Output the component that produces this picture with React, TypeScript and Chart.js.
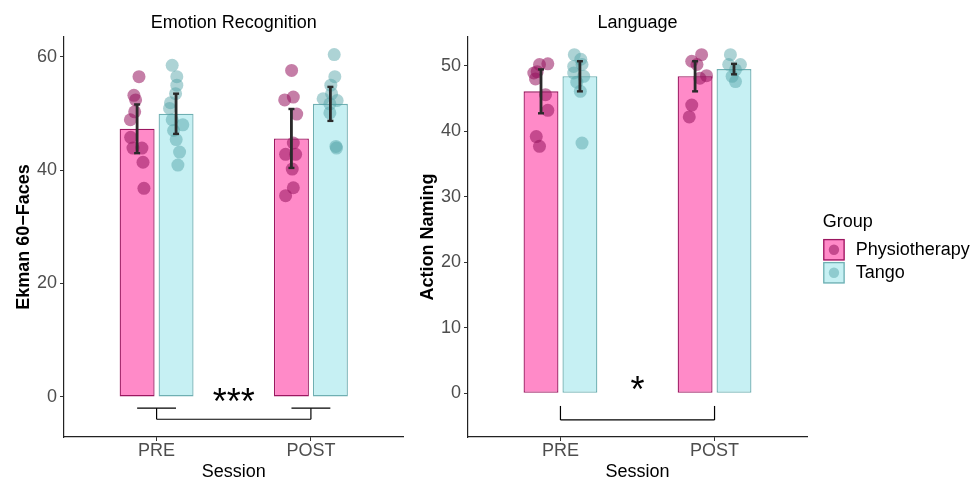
import React, { useEffect, useRef } from 'react';
import { Chart, registerables } from 'chart.js';
Chart.register(...registerables);

const FONT = "'Liberation Sans', Arial, Helvetica, sans-serif";

// ---------- shared ----------
const sessions = ['PRE', 'POST'];
const groups = ['Physiotherapy', 'Tango'];
const dodge = [-0.126, 0.126];
const barFill = ['#FF8AC8', '#C6F0F3'];
const barLine = ['#9B1760', '#6FAFB2'];
const dotColor = ['rgba(150,20,95,0.55)', 'rgba(84,164,168,0.48)'];

// ---------- Emotion Recognition (Ekman 60-Faces) ----------
const erTicks = [0, 20, 40, 60];
const erRange = [-7.08, 63.5];
const erPhysioMean = [47.3, 45.6];
const erPhysioSE = [4.3, 5.2];
const erTangoMean = [49.95, 51.7];
const erTangoSE = [3.55, 3.0];
const erPhysioPre = [56.5, 53.2, 52.4, 50.3, 48.9, 45.8, 43.9, 43.9, 41.4, 36.8];
const erPhysioPreJit = [0.012, -0.021, -0.01, -0.016, -0.044, -0.042, -0.027, 0.031, 0.038, 0.044];
const erPhysioPost = [57.6, 52.4, 52.9, 49.9, 44.8, 42.8, 42.8, 40.2, 36.9, 35.5];
const erPhysioPostJit = [0.001, -0.044, 0.012, 0.034, 0.012, -0.038, 0.027, 0.005, 0.012, -0.038];
const erTangoPre = [58.5, 56.5, 55.0, 53.5, 51.9, 50.9, 48.9, 48.0, 47.0, 45.4, 43.2, 40.9];
const erTangoPreJit = [-0.025, 0.005, 0.005, -0.003, -0.036, -0.042, -0.025, 0.044, -0.016, 0.001, 0.023, 0.012];
const erTangoPost = [60.4, 56.5, 55.0, 53.5, 52.6, 52.3, 51.7, 50.1, 44.2, 43.9];
const erTangoPostJit = [0.025, 0.029, 0.003, 0.008, -0.047, 0.044, -0.003, -0.003, 0.036, 0.04];
const erSig = '***';
const erSigY = 0.27;
const erBracket = [-2.0, -3.95];

// ---------- Language (Action Naming) ----------
const anTicks = [0, 10, 20, 30, 40, 50];
const anRange = [-6.68, 54.4];
const anPhysioMean = [46.1, 48.4];
const anPhysioSE = [3.35, 2.3];
const anTangoMean = [48.4, 49.5];
const anTangoSE = [2.3, 0.8];
const anPhysioPre = [50.3, 50.2, 49.1, 48.9, 48.0, 45.6, 43.2, 39.2, 37.7];
const anPhysioPreJit = [0.044, -0.01, -0.025, -0.047, -0.036, 0.029, 0.044, -0.031, -0.01];
const anPhysioPost = [51.7, 50.7, 50.2, 48.5, 48.1, 44.0, 42.2];
const anPhysioPostJit = [0.042, -0.022, 0.012, 0.074, 0.031, -0.022, -0.038];
const anTangoPre = [51.7, 51.0, 50.2, 49.9, 48.9, 48.4, 47.5, 46.1, 38.2];
const anTangoPreJit = [-0.036, 0.006, 0.014, -0.04, -0.04, 0.025, -0.02, 0.003, 0.014];
const anTangoPost = [51.7, 50.2, 50.2, 49.4, 48.4, 47.6];
const anTangoPostJit = [-0.023, 0.042, -0.034, 0.01, -0.012, 0.01];
const anSig = '*';
const anSigY = 1.62;
const anBracket = [-1.94, -4.08];

interface Panel {
  title: string;
  yTitle: string;
  ticks: number[];
  range: number[];
  means: number[][];
  ses: number[][];
  points: number[][][];
  jitter: number[][][];
  sig: string;
  sigY: number;
  bracket: number[];
  groupCaps: boolean;
  canvasLeft: number;
  canvasW: number;
  yAxisW: number;
  padRight: number;
  yTitlePad: number;
  legend: boolean;
}

const erPanel: Panel = {
  title: 'Emotion Recognition',
  yTitle: 'Ekman 60\u2212Faces',
  ticks: erTicks,
  range: erRange,
  means: [erPhysioMean, erTangoMean],
  ses: [erPhysioSE, erTangoSE],
  points: [[erPhysioPre, erPhysioPost], [erTangoPre, erTangoPost]],
  jitter: [[erPhysioPreJit, erPhysioPostJit], [erTangoPreJit, erTangoPostJit]],
  sig: erSig,
  sigY: erSigY,
  bracket: erBracket,
  groupCaps: true,
  canvasLeft: 0,
  canvasW: 410,
  yAxisW: 64,
  padRight: 6,
  yTitlePad: 13,
  legend: false,
};

const anPanel: Panel = {
  title: 'Language',
  yTitle: 'Action Naming',
  ticks: anTicks,
  range: anRange,
  means: [anPhysioMean, anTangoMean],
  ses: [anPhysioSE, anTangoSE],
  points: [[anPhysioPre, anPhysioPost], [anTangoPre, anTangoPost]],
  jitter: [[anPhysioPreJit, anPhysioPostJit], [anTangoPreJit, anTangoPostJit]],
  sig: anSig,
  sigY: anSigY,
  bracket: anBracket,
  groupCaps: false,
  canvasLeft: 410,
  canvasW: 564,
  yAxisW: 58,
  padRight: 167,
  yTitlePad: 7,
  legend: true,
};

function line(ctx: CanvasRenderingContext2D, x1: number, y1: number, x2: number, y2: number) {
  ctx.beginPath();
  ctx.moveTo(x1, y1);
  ctx.lineTo(x2, y2);
  ctx.stroke();
}

function buildConfig(p: Panel): any {
  const datasets: any[] = [];
  groups.forEach((g, gi) => {
    datasets.push({
      type: 'bar',
      label: g,
      data: sessions.map((_, si) => ({ x: si + 1, y: p.means[gi][si] })),
      backgroundColor: barFill[gi],
      borderColor: barLine[gi],
      borderWidth: 1.3,
      borderSkipped: false,
      categoryPercentage: 0.505,
      barPercentage: 0.897,
      order: 3,
    });
  });
  groups.forEach((g, gi) => {
    sessions.forEach((s, si) => {
      datasets.push({
        type: 'scatter',
        label: g + ' ' + s,
        data: p.points[gi][si].map((v, k) => ({ x: si + 1 + dodge[gi] + p.jitter[gi][si][k], y: v })),
        backgroundColor: dotColor[gi],
        borderWidth: 0,
        pointRadius: 6.5,
        pointHoverRadius: 6.5,
        showLine: false,
        order: 1,
      });
    });
  });

  const overlay = {
    id: 'overlay' + p.canvasLeft,
    afterDatasetsDraw(chart: any) {
      const ctx: CanvasRenderingContext2D = chart.ctx;
      const xs = chart.scales.x;
      const ys = chart.scales.y;
      ctx.save();
      // error bars (mean ± SE)
      ctx.strokeStyle = '#2A2A2A';
      ctx.lineCap = 'butt';
      groups.forEach((_, gi) => {
        const meta = chart.getDatasetMeta(gi);
        meta.data.forEach((el: any, si: number) => {
          const m = p.means[gi][si];
          const se = p.ses[gi][si];
          const y1 = ys.getPixelForValue(m + se);
          const y2 = ys.getPixelForValue(m - se);
          ctx.lineWidth = 2.8;
          line(ctx, el.x, y1, el.x, y2);
          ctx.lineWidth = 2.4;
          line(ctx, el.x - 3, y1, el.x + 3, y1);
          line(ctx, el.x - 3, y2, el.x + 3, y2);
        });
      });
      // significance bracket
      ctx.strokeStyle = '#000';
      ctx.lineWidth = 1.2;
      const yHi = ys.getPixelForValue(p.bracket[0]);
      const yLo = ys.getPixelForValue(p.bracket[1]);
      const xA = xs.getPixelForValue(1);
      const xB = xs.getPixelForValue(2);
      if (p.groupCaps) {
        [1, 2].forEach((c) => {
          line(ctx, xs.getPixelForValue(c + dodge[0]), yHi, xs.getPixelForValue(c + dodge[1]), yHi);
        });
      }
      line(ctx, xA, yHi, xA, yLo);
      line(ctx, xB, yHi, xB, yLo);
      line(ctx, xA, yLo, xB, yLo);
      // stars
      ctx.fillStyle = '#000';
      ctx.font = '36px ' + FONT;
      ctx.textAlign = 'center';
      ctx.textBaseline = 'alphabetic';
      const mt = ctx.measureText(p.sig);
      const yc = ys.getPixelForValue(p.sigY);
      ctx.fillText(p.sig, (xA + xB) / 2, yc + (mt.actualBoundingBoxAscent - mt.actualBoundingBoxDescent) / 2);
      // panel title
      ctx.font = '18px ' + FONT;
      ctx.fillText(p.title, (chart.chartArea.left + chart.chartArea.right) / 2, 27.5);
      // legend
      if (p.legend) {
        const lx = 822.7 - p.canvasLeft;
        ctx.textAlign = 'left';
        ctx.fillText('Group', lx, 227);
        const rows = [239, 262];
        groups.forEach((g, gi) => {
          const top = rows[gi];
          ctx.fillStyle = barFill[gi];
          ctx.fillRect(lx + 0.5, top, 21.5, 21.5);
          ctx.strokeStyle = barLine[gi];
          ctx.lineWidth = 1.3;
          ctx.strokeRect(lx + 1.1, top + 0.6, 20.3, 20.3);
          ctx.fillStyle = dotColor[gi];
          ctx.beginPath();
          ctx.arc(lx + 11.25, top + 10.75, 5.2, 0, Math.PI * 2);
          ctx.fill();
          ctx.fillStyle = '#000';
          ctx.fillText(g, lx + 33, top + 16.3);
        });
      }
      ctx.restore();
    },
  };

  const gridOpts = {
    display: true,
    offset: false,
    drawOnChartArea: false,
    drawTicks: true,
    tickLength: 4,
    color: '#333333',
    lineWidth: 1,
  };
  const borderOpts = { display: true, color: '#222222', width: 1.2 };

  return {
    type: 'bar',
    data: { datasets },
    plugins: [overlay],
    options: {
      responsive: false,
      animation: false,
      devicePixelRatio: 1,
      events: [],
      layout: { padding: { left: 0, right: p.padRight, top: 37, bottom: 0 } },
      plugins: { legend: { display: false }, tooltip: { enabled: false }, title: { display: false } },
      scales: {
        x: {
          type: 'linear',
          min: 0.4,
          max: 2.6,
          offset: false,
          grid: gridOpts,
          border: borderOpts,
          ticks: {
            font: { size: 18, family: FONT, lineHeight: 1 },
            color: '#4D4D4D',
            padding: 1,
            autoSkip: false,
            maxRotation: 0,
            callback: (v: number) => sessions[Math.round(v) - 1] ?? '',
          },
          afterBuildTicks: (s: any) => {
            s.ticks = sessions.map((_, i) => ({ value: i + 1 }));
          },
          afterFit: (s: any) => {
            s.height = 46;
          },
          title: {
            display: true,
            text: 'Session',
            color: '#000',
            font: { size: 18, family: FONT, lineHeight: 1.2 },
            padding: { top: 0, bottom: 0 },
          },
        },
        y: {
          type: 'linear',
          min: p.range[0],
          max: p.range[1],
          grid: gridOpts,
          border: borderOpts,
          ticks: {
            font: { size: 18, family: FONT, lineHeight: 1 },
            color: '#4D4D4D',
            padding: 3,
            autoSkip: false,
          },
          afterBuildTicks: (s: any) => {
            s.ticks = p.ticks.map((v) => ({ value: v }));
          },
          afterFit: (s: any) => {
            s.width = p.yAxisW;
          },
          title: {
            display: true,
            text: p.yTitle,
            color: '#000',
            font: { size: 18, family: FONT, weight: 'bold', lineHeight: 1.2 },
            padding: { top: p.yTitlePad, bottom: 0 },
          },
        },
      },
    },
  };
}

function PanelChart({ panel }: { panel: Panel }) {
  const ref = useRef<HTMLCanvasElement>(null);
  useEffect(() => {
    const chart = new Chart(ref.current as HTMLCanvasElement, buildConfig(panel));
    return () => chart.destroy();
  }, [panel]);
  return (
    <canvas
      ref={ref}
      width={panel.canvasW}
      height={483}
      style={{ position: 'absolute', left: panel.canvasLeft, top: 0, width: panel.canvasW, height: 483, display: 'block' }}
    />
  );
}

export default function App() {
  return (
    <div style={{ position: 'fixed', left: 0, top: 0, width: 974, height: 483, background: '#fff', overflow: 'hidden' }}>
      <PanelChart panel={erPanel} />
      <PanelChart panel={anPanel} />
    </div>
  );
}
